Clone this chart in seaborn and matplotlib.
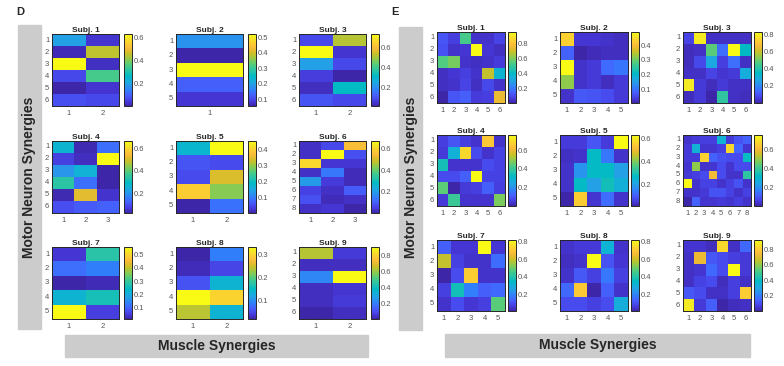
import numpy as np
import seaborn as sns
import matplotlib.pyplot as plt
from matplotlib.colors import LinearSegmentedColormap
from matplotlib.patches import Rectangle

# panel D: motor neuron synergies x muscle synergies, one matrix per subject
d1 = [[0.20, 0.04], [0.02, 0.45], [0.63, 0.03], [0.07, 0.35], [0.01, 0.04], [0.08, 0.07]]
d2 = [[0.18], [0.055], [0.52], [0.125], [0.08]]
d3 = [[0.08, 0.52], [0.74, 0.045], [0.23, 0.08], [0.06, 0.01], [0.03, 0.32], [0.10, 0.08]]
d4 = [[0.27, 0.03, 0.14], [0.07, 0.04, 0.67], [0.20, 0.26, 0.02],
      [0.34, 0.14, 0.02], [0.03, 0.52, 0.05], [0.09, 0.11, 0.12]]
d5 = [[0.18, 0.45], [0.06, 0.05], [0.05, 0.34], [0.39, 0.29], [0.005, 0.09]]
d6 = [[0.03, 0.07, 0.55], [0.03, 0.67, 0.08], [0.60, 0.04, 0.04], [0.03, 0.14, 0.02],
      [0.20, 0.05, 0.02], [0.06, 0.03, 0.10], [0.08, 0.02, 0.03], [0.03, 0.04, 0.006]]
d7 = [[0.04, 0.28], [0.11, 0.13], [0.01, 0.02], [0.22, 0.26], [0.56, 0.05]]
d8 = [[0.023, 0.09], [0.03, 0.05], [0.06, 0.14], [0.33, 0.295], [0.24, 0.14]]
d9 = [[0.63, 0.06], [0.03, 0.03], [0.22, 0.90], [0.03, 0.05], [0.03, 0.06], [0.005, 0.03]]

# panel E
e1 = [[0.13, 0.08, 0.53, 0.05, 0.05, 0.09],
      [0.12, 0.05, 0.06, 0.96, 0.06, 0.04],
      [0.55, 0.60, 0.05, 0.04, 0.05, 0.07],
      [0.04, 0.06, 0.08, 0.05, 0.69, 0.37],
      [0.04, 0.05, 0.09, 0.04, 0.10, 0.05],
      [0.01, 0.13, 0.15, 0.07, 0.08, 0.75]]
e2 = [[0.43, 0.03, 0.03, 0.025, 0.02],
      [0.08, 0.005, 0.015, 0.02, 0.02],
      [0.49, 0.025, 0.035, 0.09, 0.10],
      [0.32, 0.025, 0.035, 0.02, 0.035],
      [0.025, 0.07, 0.065, 0.055, 0.035]]
e3 = [[0.07, 0.79, 0.03, 0.03, 0.03, 0.03],
      [0.02, 0.03, 0.48, 0.15, 0.83, 0.35],
      [0.02, 0.08, 0.27, 0.06, 0.15, 0.03],
      [0.03, 0.03, 0.07, 0.04, 0.05, 0.29],
      [0.79, 0.05, 0.02, 0.05, 0.03, 0.03],
      [0.02, 0.05, 0.0, 0.42, 0.03, 0.02]]
e4 = [[0.06, 0.10, 0.06, 0.04, 0.65, 0.035],
      [0.05, 0.285, 0.685, 0.08, 0.035, 0.065],
      [0.345, 0.04, 0.04, 0.04, 0.08, 0.065],
      [0.08, 0.08, 0.12, 0.76, 0.065, 0.065],
      [0.445, 0.005, 0.05, 0.06, 0.12, 0.06],
      [0.05, 0.405, 0.04, 0.04, 0.04, 0.475]]
e5 = [[0.05, 0.05, 0.09, 0.05, 0.635],
      [0.03, 0.035, 0.27, 0.135, 0.035],
      [0.035, 0.18, 0.27, 0.27, 0.20],
      [0.035, 0.27, 0.20, 0.29, 0.235],
      [0.01, 0.55, 0.04, 0.12, 0.035]]
e6 = [[0.035, 0.05, 0.06, 0.06, 0.28, 0.05, 0.095, 0.12],
      [0.05, 0.28, 0.04, 0.04, 0.06, 0.675, 0.13, 0.04],
      [0.05, 0.05, 0.66, 0.12, 0.095, 0.08, 0.08, 0.325],
      [0.04, 0.49, 0.035, 0.04, 0.08, 0.04, 0.08, 0.08],
      [0.05, 0.06, 0.08, 0.60, 0.08, 0.035, 0.035, 0.38],
      [0.75, 0.035, 0.065, 0.065, 0.035, 0.06, 0.095, 0.035],
      [0.035, 0.035, 0.05, 0.095, 0.095, 0.065, 0.035, 0.065],
      [0.005, 0.12, 0.04, 0.04, 0.05, 0.04, 0.06, 0.035]]
e7 = [[0.13, 0.05, 0.05, 0.82, 0.05],
      [0.59, 0.07, 0.04, 0.04, 0.15],
      [0.007, 0.09, 0.715, 0.04, 0.04],
      [0.07, 0.37, 0.185, 0.13, 0.145],
      [0.04, 0.09, 0.05, 0.065, 0.48]]
e8 = [[0.04, 0.055, 0.055, 0.315, 0.04],
      [0.03, 0.04, 0.82, 0.105, 0.05],
      [0.04, 0.115, 0.07, 0.17, 0.07],
      [0.145, 0.70, 0.007, 0.13, 0.04],
      [0.09, 0.09, 0.07, 0.09, 0.29]]
e9 = [[0.05, 0.05, 0.03, 0.83, 0.04, 0.16],
      [0.04, 0.72, 0.125, 0.095, 0.07, 0.06],
      [0.04, 0.05, 0.16, 0.095, 0.92, 0.06],
      [0.04, 0.08, 0.095, 0.03, 0.07, 0.04],
      [0.125, 0.095, 0.04, 0.04, 0.07, 0.80],
      [0.875, 0.06, 0.14, 0.005, 0.03, 0.04]]

# colorbar ticks per subject
d_ticks = [[0.2, 0.4, 0.6], [0.1, 0.2, 0.3, 0.4, 0.5], [0.2, 0.4, 0.6],
           [0.2, 0.4, 0.6], [0.1, 0.2, 0.3, 0.4], [0.2, 0.4, 0.6],
           [0.1, 0.2, 0.3, 0.4, 0.5], [0.1, 0.2, 0.3], [0.2, 0.4, 0.6, 0.8]]
e_ticks = [[0.2, 0.4, 0.6, 0.8], [0.1, 0.2, 0.3, 0.4], [0.2, 0.4, 0.6, 0.8],
           [0.2, 0.4, 0.6], [0.2, 0.4, 0.6], [0.2, 0.4, 0.6],
           [0.2, 0.4, 0.6, 0.8], [0.2, 0.4, 0.6, 0.8], [0.2, 0.4, 0.6, 0.8]]

d_mats = [d1, d2, d3, d4, d5, d6, d7, d8, d9]
e_mats = [e1, e2, e3, e4, e5, e6, e7, e8, e9]

# MATLAB parula (subsampled)
parula = LinearSegmentedColormap.from_list("parula", [
    (0.2422, 0.1504, 0.6603), (0.2706, 0.2147, 0.8364), (0.2813, 0.3006, 0.9414),
    (0.2699, 0.3892, 0.9906), (0.1963, 0.4847, 0.9892), (0.1687, 0.5703, 0.9359),
    (0.1248, 0.6459, 0.8883), (0.0689, 0.6948, 0.8394), (0.0067, 0.7312, 0.7660),
    (0.1408, 0.7584, 0.6842), (0.2161, 0.7843, 0.5923), (0.3406, 0.8008, 0.4789),
    (0.5044, 0.7993, 0.3480), (0.6720, 0.7793, 0.2227), (0.8203, 0.7498, 0.1535),
    (0.9393, 0.7288, 0.2100), (0.9970, 0.7659, 0.2199), (0.9786, 0.8386, 0.1766),
    (0.9597, 0.9135, 0.1423), (0.9769, 0.9839, 0.0805)])

sns.set_style("white")
plt.rcParams['font.family'] = ['Liberation Sans', 'DejaVu Sans']

W, H = 784, 366
fig = plt.figure(figsize=(W / 100, H / 100), dpi=100)


def box(x0, y0, x1, y1):
    return [x0 / W, 1 - y1 / H, (x1 - x0) / W, (y1 - y0) / H]


def draw_panel(mats, ticks, col_x, row_y, hw, hh, gap, cw):
    for i, (m, tk) in enumerate(zip(mats, ticks)):
        x0 = col_x[i % 3]
        y0 = row_y[i // 3]
        arr = np.array(m)
        nr, nc = arr.shape
        ax = fig.add_axes(box(x0, y0, x0 + hw, y0 + hh))
        cax = fig.add_axes(box(x0 + hw + gap, y0, x0 + hw + gap + cw, y0 + hh))
        sns.heatmap(arr, ax=ax, cbar_ax=cax, cmap=parula, linewidths=0,
                    xticklabels=list(range(1, nc + 1)),
                    yticklabels=list(range(1, nr + 1)))
        ax.set_title(f"Subj. {i + 1}", fontsize=6, fontweight='bold', pad=1.5)
        for s in ax.spines.values():
            s.set_visible(True)
            s.set_linewidth(0.7)
            s.set_color('#262626')
        ax.tick_params(direction='in', length=1.5, width=0.5, labelsize=5.5,
                       labelcolor='#555555', top=True, right=True,
                       bottom=True, left=True, pad=3)
        ax.tick_params(axis='y', pad=2)
        for t in ax.get_yticklabels():
            t.set_rotation(0)
        cb = ax.collections[0].colorbar
        cb.set_ticks(tk)
        cb.set_ticklabels([f"{t:g}" for t in tk])
        cb.outline.set_visible(True)
        cb.outline.set_linewidth(0.7)
        cb.outline.set_edgecolor('#262626')
        cax.tick_params(direction='in', length=1.5, width=0.5, labelsize=5.5,
                        labelcolor='#555555', left=True, right=True, pad=1.5)


def labels(letter, lx, left_box, bottom_box):
    fig.text(lx / W, 1 - 12 / H, letter, fontsize=8, fontweight='bold',
             ha='left', va='center')
    x0, y0, x1, y1 = left_box
    fig.patches.append(Rectangle((x0 / W, 1 - y1 / H), (x1 - x0) / W, (y1 - y0) / H,
                                 transform=fig.transFigure, color='#cccccc', zorder=0))
    fig.text((x0 + x1) / 2 / W, 1 - 177 / H, "Motor Neuron Synergies",
             rotation=90, fontsize=10, fontweight='bold', ha='center', va='center')
    x0, y0, x1, y1 = bottom_box
    fig.patches.append(Rectangle((x0 / W, 1 - y1 / H), (x1 - x0) / W, (y1 - y0) / H,
                                 transform=fig.transFigure, color='#cccccc', zorder=0))
    fig.text((x0 + x1) / 2 / W, 1 - (y0 + y1) / 2 / H, "Muscle Synergies",
             fontsize=10, fontweight='bold', ha='center', va='center')


labels("D", 16, (18, 25, 41, 329), (65, 335, 368, 357))
labels("E", 391, (399, 27, 422, 330), (445, 334, 750, 357))

draw_panel(d_mats, d_ticks, [52, 176, 299], [34, 141, 247], 67, 72, 5, 8)
draw_panel(e_mats, e_ticks, [437, 560, 683], [32, 135, 240], 68, 71, 3, 8)

fig.savefig("out.png", dpi=100)
plt.close(fig)
